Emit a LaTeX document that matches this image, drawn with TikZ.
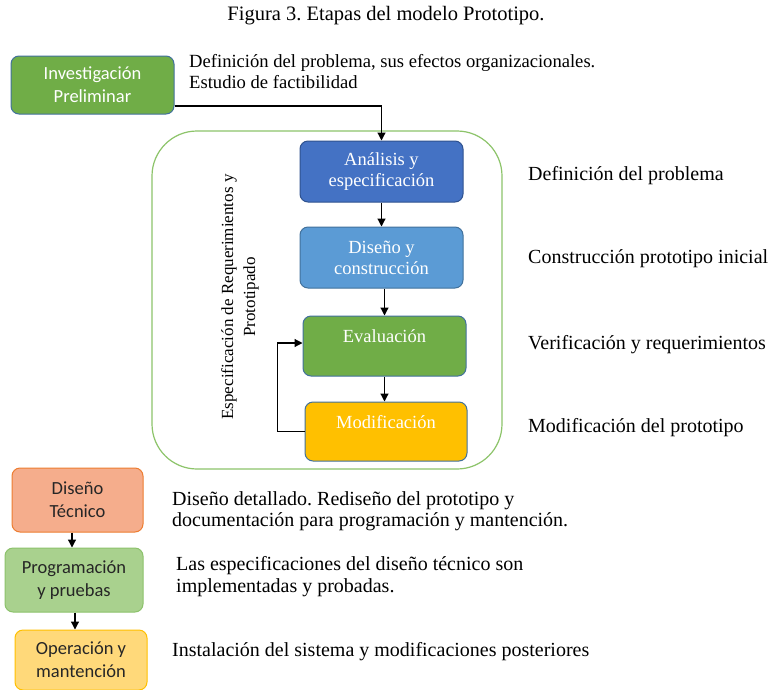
\documentclass[tikz,border=0pt]{standalone}
\usepackage{fontspec}
\setmainfont{Liberation Serif}
\newfontfamily\calibfont{Carlito}
\usetikzlibrary{arrows.meta, positioning}
\frenchspacing
\definecolor{frameblue}{HTML}{41719C}
\definecolor{darkblue}{HTML}{2F528F}
\definecolor{stageblue}{HTML}{4472C4}
\definecolor{lightblue}{HTML}{5B9BD5}
\definecolor{stagegreen}{HTML}{70AD47}
\definecolor{stagegold}{HTML}{FFC000}
\definecolor{protogreen}{HTML}{8DC46A}
\definecolor{salmon}{HTML}{F5AD8C}
\definecolor{salmonline}{HTML}{ED7D31}
\definecolor{palegreen}{HTML}{A9D18E}
\definecolor{palegreenline}{HTML}{8CC26B}
\definecolor{paleyellow}{HTML}{FFD97A}
\tikzset{
  stage/.style={rectangle,rounded corners=8pt,draw=frameblue,line width=1pt,
    text=white,align=center,inner sep=2pt,minimum width=163pt,minimum height=61pt,
    font=\fontsize{18.5}{21}\selectfont},
  side/.style={rectangle,rounded corners=8pt,line width=1pt,align=center,
    inner sep=2pt,text=black!85,font=\calibfont\fontsize{18.5}{23}\selectfont},
  note/.style={anchor=west,align=left,inner sep=0pt,
    font=\fontsize{20}{21.5}\selectfont},
  arr/.style={-{Triangle[length=8pt,width=8pt]},line width=1.2pt}
}
\begin{document}
\begin{tikzpicture}[x=1pt,y=-1pt]
\useasboundingbox (0,0) rectangle (772,689);
\fill[white] (0,0) rectangle (772,689);
\node[font=\fontsize{20.5}{22}\selectfont] (cap) at (386,16) {Figura 3. Etapas del modelo Prototipo.};
% fase preliminar
\node[side,fill=stagegreen,draw=frameblue,text=white,minimum width=163pt,minimum height=58pt] (inv) at (92.5,85) {Investigación\\Preliminar};
\node[note,font=\fontsize{18.6}{21}\selectfont] (invtxt) at (189,71.5) {Definición del problema, sus efectos organizacionales.\\Estudio de factibilidad};
% ciclo de prototipado
\node[draw=protogreen,line width=1.2pt,rounded corners=45pt,minimum width=350pt,minimum height=338pt] (proto) at (327,300) {};
\node[rotate=90,align=center,font=\fontsize{17}{22}\selectfont] (prototxt) at (240,297) {Especificación de Requerimientos y\\Prototipado};
\node[stage,fill=stageblue,draw=darkblue] (ana) at (381.5,171.5) {Análisis y\\especificación};
\node[stage,fill=lightblue] (dis) at (381.5,257.5) {Diseño y\\construcción};
\node[stage,fill=stagegreen,minimum height=60pt,text depth=20pt] (eva) at (384.5,346) {Evaluación};
\node[stage,fill=stagegold,minimum width=162pt,minimum height=59pt,text depth=20pt] (mod) at (386,431.5) {Modificación};
\node[note] (anatxt) at (528,176) {Definición del problema};
\node[note] (distxt) at (528,259) {Construcción prototipo inicial};
\node[note] (evatxt) at (528,345) {Verificación y requerimientos};
\node[note] (modtxt) at (528,428) {Modificación del prototipo};
% fases finales
\node[side,fill=salmon,draw=salmonline,minimum width=131pt,minimum height=64pt] (tec) at (77.5,500) {Diseño\\Técnico};
\node[side,fill=palegreen,draw=palegreenline,minimum width=138pt,minimum height=64pt] (prog) at (74,580) {Programación\\y pruebas};
\node[side,fill=paleyellow,draw=stagegold,minimum width=132pt,minimum height=60pt] (oper) at (81,660) {Operación y\\mantención};
\node[note] (tectxt) at (172,511) {Diseño detallado. Rediseño del prototipo y\\documentación para programación y mantención.};
\node[note] (progtxt) at (176,576.5) {Las especificaciones del diseño técnico son\\implementadas y probadas.};
\node[note] (opertxt) at (172,652) {Instalación del sistema y modificaciones posteriores};
% conectores
\draw[arr] ([yshift=-21pt]inv.east) -| (ana.north);
\draw[arr] (ana.south) -- (dis.north);
\draw[arr] (eva.north |- dis.south) -- (eva.north);
\draw[arr] (eva.south) -- (mod.north -| eva.south);
\draw[arr] (mod.west) -- ++(-27,0) |- ([yshift=3pt]eva.west);
\draw[arr] (tec.south -| 72,0) -- (prog.north -| 72,0);
\draw[arr] (prog.south -| 75,0) -- (oper.north -| 75,0);
\end{tikzpicture}
\end{document}
